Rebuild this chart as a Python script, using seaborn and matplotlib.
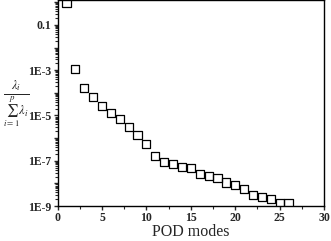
import numpy as np
import pandas as pd
import matplotlib
matplotlib.use('Agg')
import matplotlib.pyplot as plt
import seaborn as sns
from matplotlib.ticker import LogLocator, MultipleLocator, FuncFormatter

# POD eigenvalue fractions
modes = list(range(1, 27))
energy = [0.95, 1.15e-3, 1.65e-4, 6.8e-5, 2.6e-5, 1.32e-5, 6.8e-6, 3.1e-6,
          1.35e-6, 5.7e-7, 1.63e-7, 9.1e-8, 7.1e-8, 5.4e-8, 4.7e-8, 2.7e-8,
          2.1e-8, 1.8e-8, 1.1e-8, 8.5e-9, 5.6e-9, 3.05e-9, 2.5e-9, 2.0e-9,
          1.4e-9, 1.4e-9]
ytick_vals = [1e-1, 1e-3, 1e-5, 1e-7, 1e-9]
ytick_labels = ['0.1', '1E-3', '1E-5', '1E-7', '1E-9']

df = pd.DataFrame({'mode': modes, 'energy': energy})

sns.set_style('ticks')
plt.rcParams['font.family'] = ['Liberation Serif', 'DejaVu Serif']
plt.rcParams['mathtext.fontset'] = 'stix'

fig = plt.figure(figsize=(3.31, 2.41), dpi=100)
ax = fig.add_axes([0.174, 0.145, 0.805, 0.853])

sns.scatterplot(data=df, x='mode', y='energy', marker='s', s=34,
                edgecolor='black', linewidth=0.9, ax=ax, zorder=3)
ax.collections[0].set_facecolor('none')

ax.set_yscale('log')
ax.set_xlim(0, 30)
ax.set_ylim(1e-9, 1.2)

ax.xaxis.set_major_locator(MultipleLocator(5))
ax.xaxis.set_minor_locator(MultipleLocator(2.5))
ax.yaxis.set_major_locator(LogLocator(base=10, numticks=20))
ax.yaxis.set_minor_locator(LogLocator(base=10, subs=np.arange(2, 10), numticks=20))
labels = dict(zip(ytick_vals, ytick_labels))
def fmt(v, pos):
    for k, s in labels.items():
        if abs(np.log10(v) - np.log10(k)) < 1e-6:
            return s
    return ''
ax.yaxis.set_major_formatter(FuncFormatter(fmt))

for s in ax.spines.values():
    s.set_linewidth(1.0)
    s.set_color('black')
ax.tick_params(which='major', direction='out', length=3, width=1, labelsize=8.5, pad=1.5)
ax.tick_params(which='minor', direction='out', length=2, width=0.8)
for lab in ax.get_xticklabels() + ax.get_yticklabels():
    lab.set_fontweight('bold')

ax.set_xlabel('POD modes', fontsize=11.5, labelpad=0)
ax.set_ylabel('')
fig.text(0.048, 1 - 104 / 241, r'$\frac{\lambda_i}{\sum_{i=1}^{p}\lambda_i}$',
         fontsize=13, ha='center', va='center')

fig.savefig('out.png', dpi=100)
